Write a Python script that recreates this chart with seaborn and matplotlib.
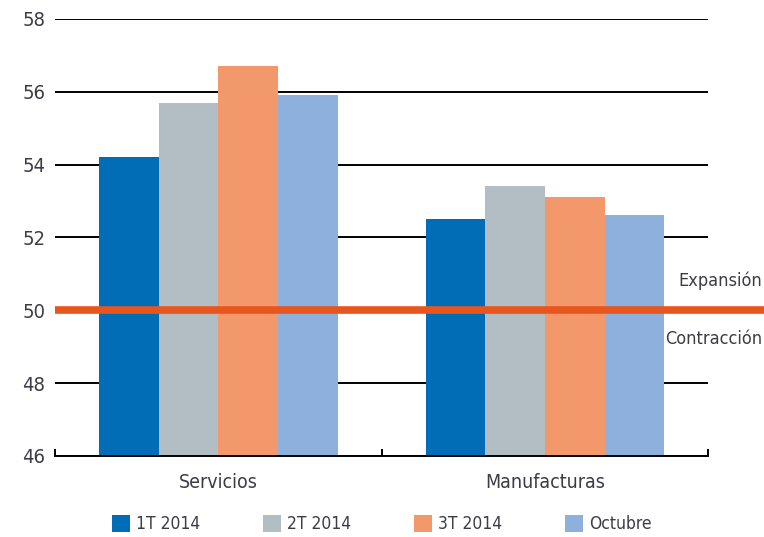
import pandas as pd
import matplotlib.pyplot as plt
import seaborn as sns

# data
sectors = ["Servicios", "Manufacturas"]
periods = ["1T 2014", "2T 2014", "3T 2014", "Octubre"]
t1_2014 = [54.2, 52.5]
t2_2014 = [55.7, 53.4]
t3_2014 = [56.7, 53.1]
octubre = [55.9, 52.6]
threshold = 50
colors = ["#006db6", "#b2bec3", "#f2986a", "#8db0dc"]

rows = []
for period, vals in zip(periods, [t1_2014, t2_2014, t3_2014, octubre]):
    for sector, v in zip(sectors, vals):
        rows.append({"sector": sector, "period": period, "value": v})
df = pd.DataFrame(rows)

sns.set_style("white")
plt.rcParams['font.family'] = ['DejaVu Sans']
plt.rcParams['font.stretch'] = 'condensed'
text_color = "#3c3c46"

fig = plt.figure(figsize=(7.64, 5.37), dpi=100)
ax = fig.add_axes([0.072, 0.151, 0.855, 0.814])

sns.barplot(data=df, x="sector", y="value", hue="period", palette=colors,
            width=0.73, saturation=1, linewidth=0, ax=ax, zorder=2)

h, l = ax.get_legend_handles_labels()
if ax.get_legend() is not None:
    ax.get_legend().remove()

ax.set_ylim(46, 58)
ax.set_xlim(-0.5, 1.5)
ax.set_yticks(range(46, 59, 2))
ax.yaxis.grid(True, color="black", linewidth=1.4, zorder=0)
ax.set_axisbelow(True)
ax.xaxis.grid(False)

for side in ["left", "right", "top"]:
    ax.spines[side].set_visible(False)
ax.spines["bottom"].set_color("black")
ax.spines["bottom"].set_linewidth(1.4)

ax.set_xticks([-0.5, 0.5, 1.5], minor=True)
ax.tick_params(axis="x", which="minor", direction="in", length=5, width=1.4, color="black", bottom=True)
ax.tick_params(axis="x", which="major", length=0, pad=12, labelsize=14, labelcolor=text_color)
ax.tick_params(axis="y", length=0, pad=7, labelsize=14.5, labelcolor=text_color)
ax.set_xlabel("")
ax.set_ylabel("")

# 50 threshold line extending past the axes
ax.axhline(threshold, xmin=0, xmax=1.086, color="#e8561f", linewidth=5.5,
           solid_capstyle="butt", clip_on=False, zorder=3)
ax.text(1.083, threshold + 0.8, "Expansión", transform=ax.get_yaxis_transform(),
        ha="right", va="center", fontsize=13, color=text_color)
ax.text(1.083, threshold - 0.8, "Contracción", transform=ax.get_yaxis_transform(),
        ha="right", va="center", fontsize=13, color=text_color)

fig.legend(h, l, loc="center", bbox_to_anchor=(0.5, 0.024), ncol=4, frameon=False,
           fontsize=12.5, handlelength=1.05, handleheight=1.1, handletextpad=0.35,
           columnspacing=3.6, labelcolor=text_color)

fig.savefig("out.png", dpi=100)
